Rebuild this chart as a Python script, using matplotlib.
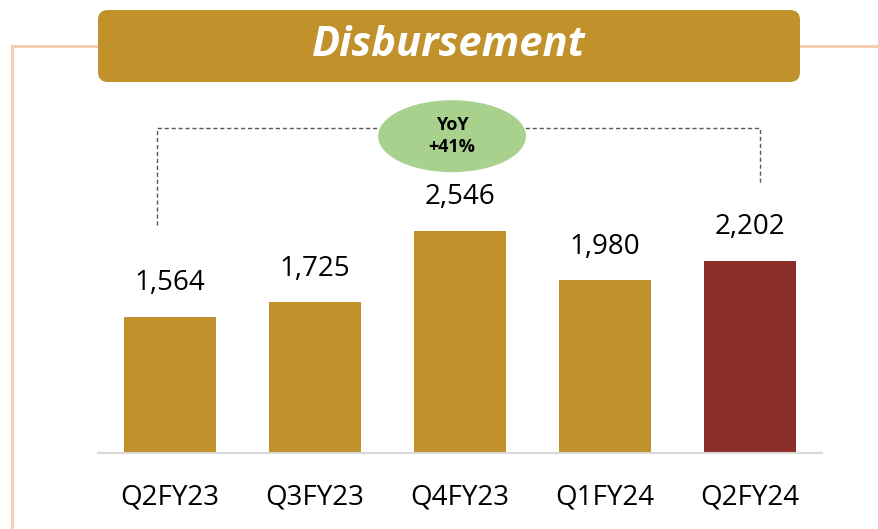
import matplotlib
matplotlib.use('Agg')
import matplotlib.pyplot as plt
from matplotlib.patches import Ellipse, FancyBboxPatch

# 数据
quarters = ['Q2FY23', 'Q3FY23', 'Q4FY23', 'Q1FY24', 'Q2FY24']
disbursement = [1564, 1725, 2546, 1980, 2202]
yoy_label = 'YoY\n+41%'

GOLD = '#C1912B'
RED = '#8B2E2A'
PEACH = '#F8CBAD'
GREEN = '#A9D18E'

plt.rcParams['font.family'] = ['Open Sans', 'DejaVu Sans']

W, H = 879, 529
fig = plt.figure(figsize=(W / 100, H / 100), dpi=100)

# 背景层：像素坐标
bg = fig.add_axes([0, 0, 1, 1])
bg.set_xlim(0, W)
bg.set_ylim(H, 0)
bg.axis('off')
bg.plot([12, W], [46, 46], color=PEACH, lw=2, zorder=1)
bg.plot([12, 12], [46, H], color=PEACH, lw=2, zorder=1)
banner = FancyBboxPatch((108, 20), 682, 52, boxstyle='round,pad=10,rounding_size=10',
                        fc=GOLD, ec='none', zorder=2)
bg.add_patch(banner)
bg.text(449, 45, 'Disbursement', color='white', fontsize=30, fontweight='bold',
        fontstyle='italic', ha='center', va='center', zorder=3)

# 柱状图
ax = fig.add_axes([98 / W, (H - 453) / H, 724 / W, 349 / H])
x = list(range(len(quarters)))
colors = [GOLD] * (len(quarters) - 1) + [RED]
ax.bar(x, disbursement, width=0.63, color=colors, zorder=2)
ax.set_xlim(-0.4966, 4.4966)
ax.set_ylim(0, 4000)

for xi, v in zip(x, disbursement):
    ax.annotate(f'{v:,}', (xi, v), xytext=(0, 14), textcoords='offset points',
                ha='center', va='bottom', fontsize=20, color='black')

ax.set_xticks(x)
ax.set_xticklabels(quarters, fontsize=20)
ax.tick_params(axis='x', length=0, pad=22)
ax.set_yticks([])
for s in ['top', 'right', 'left']:
    ax.spines[s].set_visible(False)
ax.spines['bottom'].set_color('#D9D9D9')
ax.spines['bottom'].set_linewidth(1.5)

# YoY 括线与椭圆
top_y = 3723
ax.plot([-0.09, -0.09, 4.07, 4.07], [2612, top_y, top_y, 3070], ls=(0, (3, 2)),
        color='#595959', lw=1, clip_on=False, zorder=3)
ax.add_patch(Ellipse((1.945, 3631), 1.02, 825, fc=GREEN, ec='none', clip_on=False, zorder=4))
ax.text(1.945, 3631, yoy_label, ha='center', va='center', fontsize=13,
        fontweight='bold', linespacing=1.25, zorder=5)

fig.savefig('out.png', dpi=100)
